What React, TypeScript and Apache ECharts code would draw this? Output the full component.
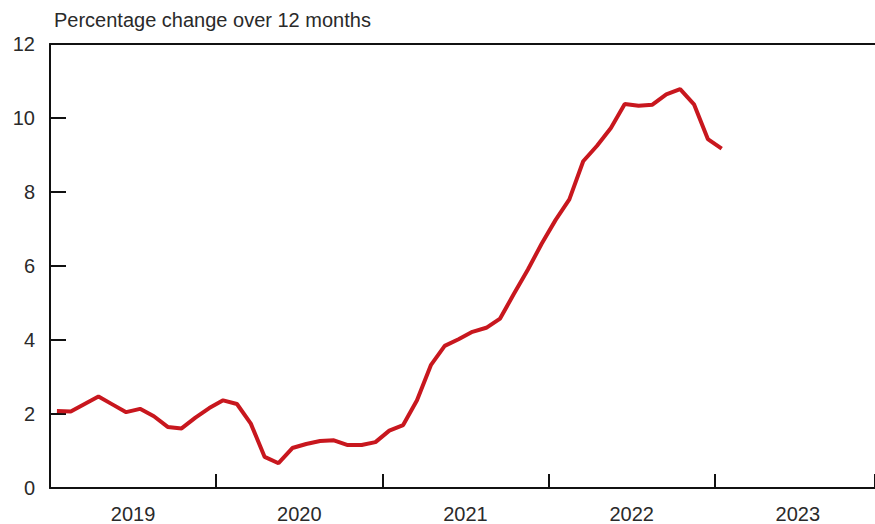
import React, { useEffect, useRef } from "react";
import * as echarts from "echarts";

const title = "Percentage change over 12 months";
const years = ["2019", "2020", "2021", "2022", "2023"];
const yTicks = [0, 2, 4, 6, 8, 10, 12];

// Monthly values, Jan 2019 .. Jan 2023
const v2019 = [2.08, 2.07, 2.27, 2.47, 2.26, 2.05, 2.14, 1.94, 1.65, 1.61, 1.9, 2.16];
const v2020 = [2.37, 2.27, 1.74, 0.84, 0.67, 1.08, 1.19, 1.27, 1.29, 1.16, 1.16, 1.24];
const v2021 = [1.55, 1.7, 2.37, 3.32, 3.84, 4.02, 4.22, 4.33, 4.58, 5.25, 5.9, 6.6];
const v2022 = [7.24, 7.8, 8.83, 9.25, 9.73, 10.38, 10.33, 10.36, 10.64, 10.78, 10.37, 9.43];
const v2023 = [9.17];

const values = [...v2019, ...v2020, ...v2021, ...v2022, ...v2023];

export default function App() {
  const ref = useRef<HTMLDivElement>(null);
  useEffect(() => {
    if (!ref.current) return;
    const chart = echarts.init(ref.current, null, { renderer: "svg" });
    const font = "'Liberation Sans', Arial, Helvetica, sans-serif";
    const data = values.map((v, i) => [i + 0.5, v]);
    const xMax = 59.57;
    chart.setOption({
      animation: false,
      title: {
        text: title,
        left: 49,
        top: 5,
        textStyle: { fontFamily: font, fontSize: 20, fontWeight: "normal", color: "#2a2a2a" },
      },
      grid: { left: 50, right: 0, top: 44, bottom: 35 },
      xAxis: [
        {
          type: "value",
          min: 0,
          max: xMax,
          interval: 12,
          position: "bottom",
          axisLine: { show: true, lineStyle: { color: "#111", width: 2 } },
          axisTick: { show: true, inside: true, length: 14, lineStyle: { color: "#111", width: 2 } },
          axisLabel: { show: false },
          splitLine: { show: false },
        },
        {
          type: "value",
          min: 0,
          max: xMax,
          interval: 6,
          position: "bottom",
          axisLine: { show: false },
          axisTick: { show: false },
          splitLine: { show: false },
          axisLabel: {
            show: true,
            margin: 16,
            fontFamily: font,
            fontSize: 20,
            color: "#2a2a2a",
            showMaxLabel: false,
            formatter: (v: number) => {
              const r = Math.round(v);
              if (Math.abs(v - r) > 0.01 || r % 12 !== 6) return "";
              return years[(r - 6) / 12] ?? "";
            },
          },
        },
        {
          type: "value",
          min: 0,
          max: xMax,
          position: "top",
          axisLine: { show: true, lineStyle: { color: "#111", width: 2 } },
          axisTick: { show: false },
          axisLabel: { show: false },
          splitLine: { show: false },
        },
      ],
      yAxis: {
        type: "value",
        min: yTicks[0],
        max: yTicks[yTicks.length - 1],
        interval: 2,
        axisLine: { show: true, lineStyle: { color: "#111", width: 2 } },
        axisTick: { show: true, inside: true, length: 16, lineStyle: { color: "#111", width: 2 } },
        axisLabel: { margin: 15, fontFamily: font, fontSize: 20, color: "#2a2a2a" },
        splitLine: { show: false },
      },
      series: [
        {
          type: "line",
          xAxisIndex: 0,
          data,
          symbol: "none",
          lineStyle: { color: "#c8171e", width: 4 },
          z: 1,
        },
      ],
    });
    return () => chart.dispose();
  }, []);
  return (
    <div
      ref={ref}
      style={{ position: "fixed", left: 0, top: 0, width: 875, height: 524, background: "#fff" }}
    />
  );
}
